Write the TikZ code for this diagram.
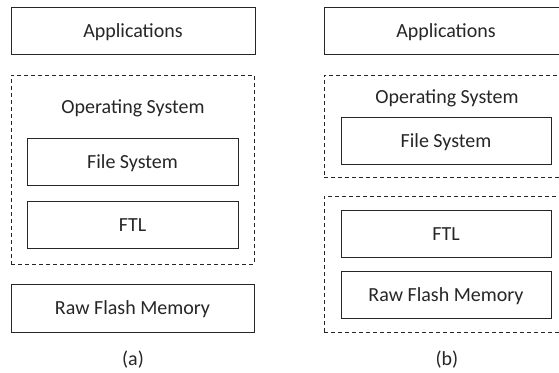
\documentclass[tikz,border=0pt]{standalone}
\usepackage{fontspec}
\setmainfont{Carlito}
\begin{document}
\begin{tikzpicture}[x=1pt,y=-1pt,
  box/.style={draw=black!85,line width=1pt,inner sep=0pt,minimum width=#1},
  box/.default=211pt,
  dbox/.style={draw=black!85,line width=1pt,dash pattern=on 4pt off 3pt,inner sep=0pt},
  lbl/.style={text=black!85,font=\fontsize{20pt}{24pt}\selectfont,inner sep=0pt,text height=13pt,text depth=0pt}]
\useasboundingbox (0,0) rectangle (559,372);
\clip (0,0) rectangle (559,372);
\fill[white] (0,0) rectangle (559,372);
% (a)
\node[box=244pt,minimum height=47pt,lbl] (appA) at (133,30.5) {Applications};
\node[dbox,minimum width=243pt,minimum height=189pt] (osA) at (132.5,169.5) {};
\node[lbl] (osAl) at (133,106.5) {Operating System};
\node[box,minimum height=47pt,lbl] (fsA) at (132.5,161.5) {File System};
\node[box,minimum height=47pt,lbl] (ftlA) at (132.5,224.5) {FTL};
\node[box=243pt,minimum height=48pt,lbl] (rawA) at (132.5,308) {Raw Flash Memory};
\node[lbl] (capA) at (133,359) {(a)};
% (b)
\node[box=244pt,minimum height=47pt,lbl] (appB) at (446,30.5) {Applications};
\node[dbox,minimum width=244pt,minimum height=102pt] (osB) at (446,126) {};
\node[lbl] (osBl) at (447,96.5) {Operating System};
\node[box=210pt,minimum height=47pt,lbl] (fsB) at (446,140.5) {File System};
\node[dbox,minimum width=244pt,minimum height=136pt] (devB) at (446,264) {};
\node[box=210pt,minimum height=47pt,lbl] (ftlB) at (446,233.5) {FTL};
\node[box=210pt,minimum height=47pt,lbl] (rawB) at (446,294.5) {Raw Flash Memory};
\node[lbl] (capB) at (447,359) {(b)};
\end{tikzpicture}
\end{document}
